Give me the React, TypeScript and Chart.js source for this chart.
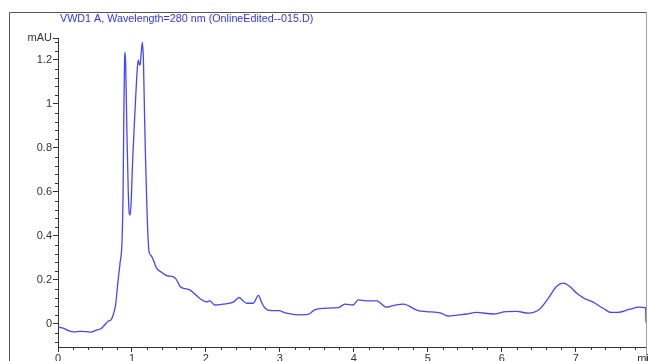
import React, { useEffect, useRef } from "react";
import { Chart, registerables } from "chart.js";

Chart.register(...registerables);

const titleText = "VWD1 A, Wavelength=280 nm (OnlineEdited--015.D)";
const yUnit = "mAU";
const xUnit = "min";

const times = [
  0.0, 0.08, 0.15, 0.22, 0.3, 0.38, 0.45, 0.52, 0.58, 0.63, 0.68, 0.72, 0.75, 0.78, 0.81, 0.84,
  0.865, 0.88, 0.89, 0.9, 0.905, 0.915, 0.93, 0.95, 0.965, 0.975, 0.99, 1.01, 1.04, 1.07, 1.085,
  1.1, 1.11, 1.125, 1.14, 1.155, 1.17, 1.18, 1.2, 1.21, 1.23, 1.26, 1.29, 1.33, 1.4, 1.47, 1.58,
  1.62, 1.65, 1.72, 1.78, 1.87, 1.94, 2.01, 2.05, 2.12, 2.23, 2.37, 2.45, 2.5, 2.55, 2.64, 2.71,
  2.75, 2.8, 2.89, 2.98, 3.09, 3.23, 3.38, 3.47, 3.58, 3.79, 3.88, 3.99, 4.06, 4.17, 4.31, 4.44,
  4.53, 4.67, 4.87, 4.98, 5.18, 5.27, 5.52, 5.66, 5.88, 6.06, 6.2, 6.36, 6.51, 6.63, 6.74, 6.83,
  6.92, 7.01, 7.12, 7.23, 7.37, 7.48, 7.57, 7.73, 7.86, 7.93, 7.945, 7.95,
];

const absorbance = [
  -0.015, -0.02, -0.032, -0.036, -0.034, -0.035, -0.037, -0.028, -0.022, -0.005, 0.013, 0.02, 0.045,
  0.09, 0.19, 0.28, 0.37, 0.6, 0.95, 1.2, 1.236, 1.18, 0.9, 0.6, 0.5, 0.495, 0.56, 0.75, 0.96, 1.15,
  1.2, 1.18, 1.177, 1.23, 1.28, 1.2, 0.95, 0.8, 0.55, 0.45, 0.33, 0.31, 0.29, 0.255, 0.235, 0.22,
  0.21, 0.19, 0.17, 0.16, 0.155, 0.13, 0.11, 0.1, 0.105, 0.086, 0.09, 0.099, 0.12, 0.105, 0.094,
  0.094, 0.13, 0.1, 0.071, 0.06, 0.06, 0.049, 0.041, 0.043, 0.064, 0.071, 0.074, 0.09, 0.086, 0.109,
  0.105, 0.105, 0.076, 0.083, 0.09, 0.06, 0.056, 0.049, 0.036, 0.045, 0.052, 0.045, 0.056, 0.057,
  0.049, 0.067, 0.117, 0.17, 0.185, 0.17, 0.14, 0.115, 0.1, 0.071, 0.052, 0.052, 0.067, 0.076, 0.074,
  0.074, 0.006,
];

const xMajorTicks = [0, 1, 2, 3, 4, 5, 6, 7];
const yMajorTicks = [0, 0.2, 0.4, 0.6, 0.8, 1, 1.2];
const xRange = [0, 7.95];
const yRange = [-0.105, 1.3];
const xMinorStep = 0.2;
const yMinorStep = 0.04;

const FONT = "'Liberation Sans', Arial, sans-serif";
const AXIS_COLOR = "#333333";

const decorPlugin = {
  id: "decor",
  afterDraw(chart: any) {
    const { ctx, chartArea } = chart;
    const xs = chart.scales.x;
    const ys = chart.scales.y;
    ctx.save();
    // outer frame
    ctx.lineWidth = 1;
    ctx.strokeStyle = "#555555";
    ctx.beginPath();
    ctx.moveTo(9.5, 361);
    ctx.lineTo(9.5, 12.5);
    ctx.lineTo(646.5, 12.5);
    ctx.stroke();
    ctx.strokeStyle = "#a0a0a0";
    ctx.beginPath();
    ctx.moveTo(646.5, 12.5);
    ctx.lineTo(646.5, 361);
    ctx.stroke();
    // minor ticks
    ctx.strokeStyle = AXIS_COLOR;
    ctx.beginPath();
    for (let i = 1; i * xMinorStep < xRange[1]; i++) {
      const v = i * xMinorStep;
      if (Math.abs(v - Math.round(v)) < 1e-6) continue;
      const px = Math.round(xs.getPixelForValue(v)) + 0.5;
      ctx.moveTo(px, chartArea.bottom);
      ctx.lineTo(px, chartArea.bottom + 3);
    }
    const startY = Math.ceil(yRange[0] / yMinorStep);
    for (let i = startY; i * yMinorStep < yRange[1]; i++) {
      const v = i * yMinorStep;
      if (yMajorTicks.some((m) => Math.abs(m - v) < 1e-6)) continue;
      const py = Math.round(ys.getPixelForValue(v)) + 0.5;
      ctx.moveTo(chartArea.left, py);
      ctx.lineTo(chartArea.left - 3, py);
    }
    ctx.stroke();
    // title
    ctx.font = `10.75px ${FONT}`;
    ctx.fillStyle = "#3333ff";
    ctx.textAlign = "left";
    ctx.textBaseline = "middle";
    ctx.fillText(titleText, 60, 19);
    ctx.restore();
  },
};

export default function App() {
  const canvasRef = useRef<HTMLCanvasElement | null>(null);

  useEffect(() => {
    const canvas = canvasRef.current;
    if (!canvas) return;
    const points = times.map((t, i) => ({ x: t, y: absorbance[i] }));
    const chart = new Chart(canvas, {
      type: "line",
      data: {
        datasets: [
          {
            data: points,
            borderColor: "rgb(70,70,255)",
            borderWidth: 1.3,
            pointRadius: 0,
            tension: 0,
            cubicInterpolationMode: "monotone",
            fill: false,
          },
        ],
      },
      options: {
        animation: false,
        responsive: true,
        maintainAspectRatio: false,
        layout: { padding: { left: 8, right: 2, top: 38, bottom: 0 } },
        plugins: { legend: { display: false }, tooltip: { enabled: false }, title: { display: false } },
        scales: {
          x: {
            type: "linear",
            min: xRange[0],
            max: xRange[1],
            afterBuildTicks: (scale: any) => {
              scale.ticks = [...xMajorTicks, xRange[1]].map((v) => ({ value: v }));
            },
            afterFit: (scale: any) => {
              scale.height = 14;
              scale.paddingLeft = 0;
              scale.paddingRight = 0;
            },
            ticks: {
              autoSkip: false,
              maxRotation: 0,
              padding: 0,
              color: AXIS_COLOR,
              font: { family: FONT, size: 11 },
              callback: (v: any) => (Math.abs(v - xRange[1]) < 1e-6 ? xUnit : String(v)),
            },
            grid: { drawOnChartArea: false, tickLength: 5, tickColor: AXIS_COLOR, tickWidth: 1 },
            border: { display: true, color: AXIS_COLOR, width: 1 },
          },
          y: {
            type: "linear",
            min: yRange[0],
            max: yRange[1],
            afterBuildTicks: (scale: any) => {
              scale.ticks = [...yMajorTicks, yRange[1]].map((v) => ({ value: v }));
            },
            afterFit: (scale: any) => {
              scale.width = 50;
              scale.paddingTop = 0;
              scale.paddingBottom = 0;
            },
            ticks: {
              autoSkip: false,
              padding: 1,
              color: AXIS_COLOR,
              font: { family: FONT, size: 11 },
              callback: (v: any) => (Math.abs(v - yRange[1]) < 1e-6 ? yUnit : String(Math.round(v * 10) / 10)),
            },
            grid: { drawOnChartArea: false, tickLength: 5, tickColor: AXIS_COLOR, tickWidth: 1 },
            border: { display: true, color: AXIS_COLOR, width: 1 },
          },
        },
      },
      plugins: [decorPlugin],
    });
    return () => chart.destroy();
  }, []);

  return (
    <div style={{ position: "fixed", left: 0, top: 0, width: 648, height: 361, background: "#fff" }}>
      <canvas ref={canvasRef} />
    </div>
  );
}
